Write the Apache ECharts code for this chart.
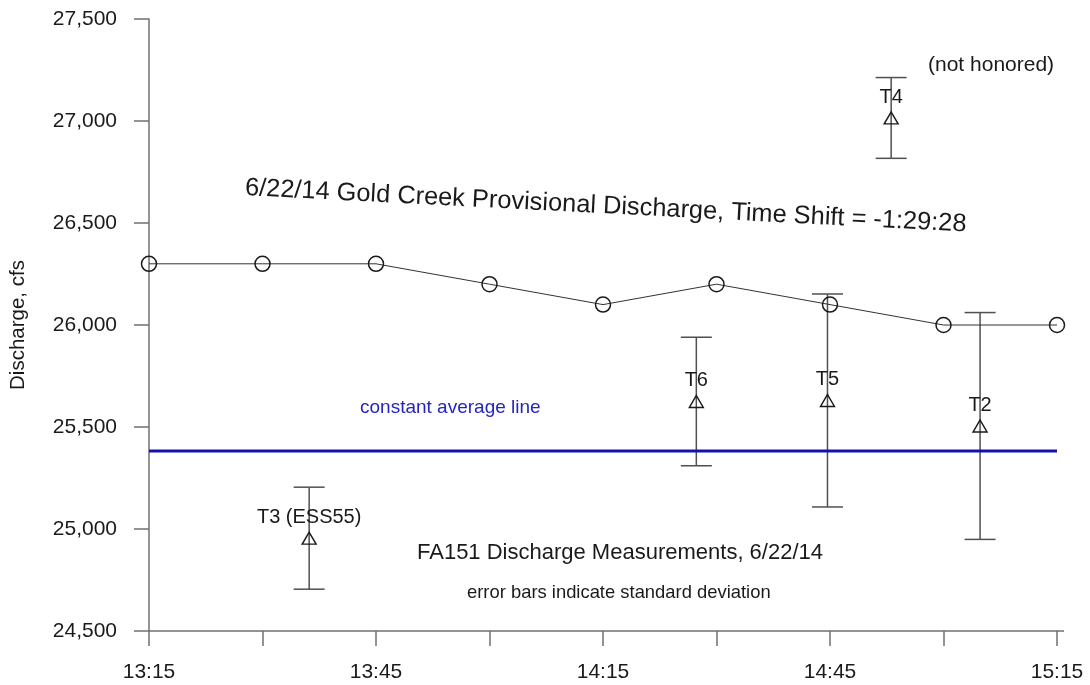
<!DOCTYPE html>
<html>
<head>
<meta charset="utf-8">
<title>Gold Creek Discharge, 6/22/14</title>
<script src="https://cdn.jsdelivr.net/npm/echarts@6/dist/echarts.min.js"></script>
<style>
  html, body { margin: 0; padding: 0; background: #fff; }
  #chart { width: 1090px; height: 685px; }
</style>
</head>
<body>
<div id="chart"></div>
<script>
// Gold Creek provisional discharge (time shifted), 15-minute steps
const provTimes = ['13:15', '13:30', '13:45', '14:00', '14:15', '14:30', '14:45', '15:00', '15:15'];
const provValues = [26300, 26300, 26300, 26200, 26100, 26200, 26100, 26000, 26000];

// FA151 discharge measurements: mean and standard deviation
const measNames = ['T3 (ESS55)', 'T6', 'T5', 'T4', 'T2'];
const measTimes = ['13:36:10', '14:27:20', '14:44:40', '14:53:05', '15:04:50'];
const measMeans = [24955, 25625, 25630, 27015, 25505];
const measSD = [250, 315, 522, 198, 556];

// Constant average discharge
const averageValue = 25382;

// Axis ranges (minutes of the day on x)
const xStart = '13:15', xEnd = '15:15', xStep = 15, xLabelStep = 30;
const yMin = 24500, yMax = 27500, yStep = 500;

const FONT = "'Liberation Sans', Arial, Helvetica, sans-serif";
const AXIS_COLOR = '#707070';
const TEXT_COLOR = '#1a1a1a';

function toMinutes(s) {
  const p = s.split(':').map(Number);
  return p[0] * 60 + p[1] + (p[2] || 0) / 60;
}
function fmtTime(m) {
  const h = Math.floor(m / 60), mm = Math.round(m - h * 60);
  return h + ':' + String(mm).padStart(2, '0');
}

const xMin = toMinutes(xStart), xMax = toMinutes(xEnd);

const provData = provTimes.map((t, i) => [toMinutes(t), provValues[i]]);
const measData = measTimes.map((t, i) => ({ name: measNames[i], value: [toMinutes(t), measMeans[i]] }));
const errData = measTimes.map((t, i) => [toMinutes(t), measMeans[i] - measSD[i], measMeans[i] + measSD[i]]);
const avgData = [[xMin, averageValue], [xMax, averageValue]];

const chart = echarts.init(document.getElementById('chart'), null, { renderer: 'canvas' });

const option = {
  animation: false,
  backgroundColor: '#ffffff',
  grid: { left: 149, right: 33, top: 19, bottom: 54 },
  xAxis: {
    type: 'value',
    min: xMin,
    max: xMax,
    interval: xStep,
    axisLine: { show: true, lineStyle: { color: AXIS_COLOR, width: 1.5 } },
    axisTick: { show: true, length: 15, lineStyle: { color: AXIS_COLOR, width: 1.5 } },
    axisLabel: {
      margin: 31,
      fontSize: 21,
      fontFamily: FONT,
      color: TEXT_COLOR,
      formatter: v => ((v - xMin) % xLabelStep === 0 ? fmtTime(v) : '')
    },
    splitLine: { show: false }
  },
  yAxis: {
    type: 'value',
    min: yMin,
    max: yMax,
    interval: yStep,
    name: 'Discharge, cfs',
    nameLocation: 'middle',
    nameRotate: 90,
    nameGap: 120,
    nameTextStyle: { fontSize: 20.5, fontFamily: FONT, color: TEXT_COLOR },
    axisLine: { show: true, lineStyle: { color: AXIS_COLOR, width: 1.5 } },
    axisTick: { show: true, length: 15, lineStyle: { color: AXIS_COLOR, width: 1.5 } },
    axisLabel: {
      margin: 32,
      fontSize: 21,
      fontFamily: FONT,
      color: TEXT_COLOR,
      formatter: v => v.toLocaleString('en-US')
    },
    splitLine: { show: false }
  },
  series: [
    {
      // standard deviation bars
      type: 'custom',
      z: 2,
      data: errData,
      encode: { x: 0, y: [1, 2] },
      renderItem: function (params, api) {
        const x = api.value(0);
        const lo = api.coord([x, api.value(1)]);
        const hi = api.coord([x, api.value(2)]);
        const half = 15.5;
        const st = { stroke: '#505050', lineWidth: 1.5 };
        return {
          type: 'group',
          children: [
            { type: 'line', shape: { x1: hi[0], y1: hi[1], x2: lo[0], y2: lo[1] }, style: st },
            { type: 'line', shape: { x1: hi[0] - half, y1: hi[1], x2: hi[0] + half, y2: hi[1] }, style: st },
            { type: 'line', shape: { x1: lo[0] - half, y1: lo[1], x2: lo[0] + half, y2: lo[1] }, style: st }
          ]
        };
      }
    },
    {
      // constant average line
      type: 'line',
      z: 3,
      data: avgData,
      symbol: 'none',
      lineStyle: { color: '#1212b0', width: 3 }
    },
    {
      // provisional discharge
      type: 'line',
      z: 4,
      data: provData,
      symbol: 'circle',
      symbolSize: 15,
      showAllSymbol: true,
      lineStyle: { color: '#333333', width: 1 },
      itemStyle: { color: 'rgba(0,0,0,0)', borderColor: '#1a1a1a', borderWidth: 1.5 }
    },
    {
      // measurement means
      type: 'scatter',
      z: 5,
      data: measData,
      symbol: 'triangle',
      symbolSize: [14, 12],
      itemStyle: { opacity: 1, color: 'rgba(0,0,0,0)', borderColor: '#1a1a1a', borderWidth: 1.4 },
      label: {
        show: true,
        position: 'top',
        distance: 4,
        formatter: p => p.name,
        fontSize: 20,
        fontFamily: FONT,
        color: TEXT_COLOR,
        opacity: 1
      }
    }
  ]
};

chart.setOption(option);

// axis line runs a little past the last tick; annotations
const end = chart.convertToPixel({ gridIndex: 0 }, [xMax, yMin]);

chart.setOption({
  graphic: [
    {
      type: 'line',
      shape: { x1: end[0], y1: end[1], x2: end[0] + 7, y2: end[1] },
      style: { stroke: AXIS_COLOR, lineWidth: 1.5 },
      silent: true
    },
    {
      type: 'text',
      x: 245, y: 188,
      rotation: -0.0506,
      style: {
        text: '6/22/14 Gold Creek Provisional Discharge, Time Shift = -1:29:28',
        font: '25.4px ' + FONT,
        fill: TEXT_COLOR,
        align: 'left',
        verticalAlign: 'middle'
      }
    },
    {
      type: 'text',
      x: 928, y: 65,
      style: { text: '(not honored)', font: '21px ' + FONT, fill: TEXT_COLOR, align: 'left', verticalAlign: 'middle' }
    },
    {
      type: 'text',
      x: 360, y: 408,
      style: { text: 'constant average line', font: '19px ' + FONT, fill: '#2525c0', align: 'left', verticalAlign: 'middle' }
    },
    {
      type: 'text',
      x: 417, y: 553,
      style: { text: 'FA151 Discharge Measurements, 6/22/14', font: '22px ' + FONT, fill: TEXT_COLOR, align: 'left', verticalAlign: 'middle' }
    },
    {
      type: 'text',
      x: 467, y: 593,
      style: { text: 'error bars indicate standard deviation', font: '18.4px ' + FONT, fill: TEXT_COLOR, align: 'left', verticalAlign: 'middle' }
    }
  ]
});
</script>
</body>
</html>
